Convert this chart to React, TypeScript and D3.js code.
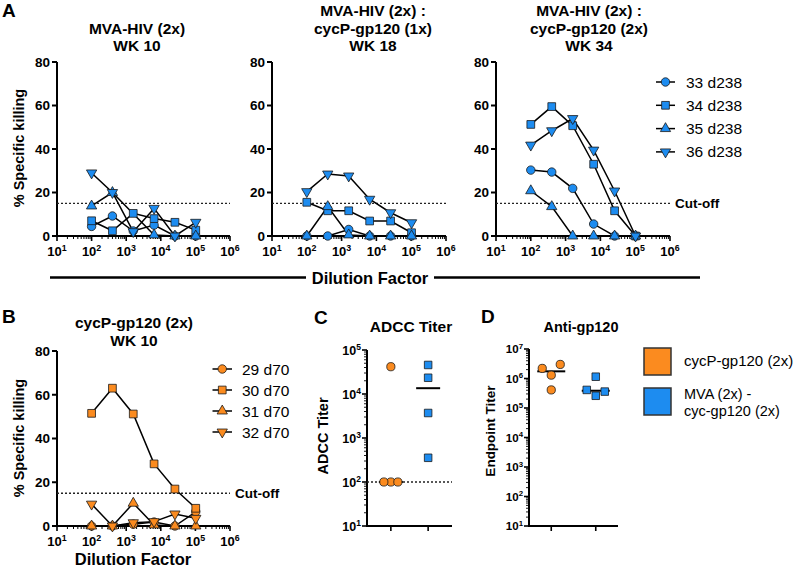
import React from "react";
import * as d3 from "d3";

// ---------------- DATA ----------------
const dilutions = [100, 400, 1600, 6400, 25600, 102400];
const killingTicks = [0, 20, 40, 60, 80];
const cutoff = 15;

const mvaAnimals = ["33 d238", "34 d238", "35 d238", "36 d238"];
const cycAnimals = ["29 d70", "30 d70", "31 d70", "32 d70"];

// Panel A – MVA-HIV (2x), WK 10
const wk10Animal33 = [4.4, 9.2, 2.3, 5.0, 0, 0];
const wk10Animal34 = [7.0, 2.4, 10.4, 8.0, 6.3, 2.7];
const wk10Animal35 = [13.8, 20.0, null, 0.5, 0, 0];
const wk10Animal36 = [29.0, 20.0, 2.0, 12.7, 0, 6.3];

// Panel A – MVA-HIV (2x) : cycP-gp120 (1x), WK 18
const wk18Animal33 = [0, 0, 3.0, 0, 0, 0];
const wk18Animal34 = [15.5, 11.6, 11.6, 6.9, 6.9, 1.5];
const wk18Animal35 = [0, 13.5, 0.5, 0, 0, 0];
const wk18Animal36 = [20.4, 28.5, 27.6, 16.9, 10.7, 6.1];

// Panel A – MVA-HIV (2x) : cycP-gp120 (2x), WK 34
const wk34Animal33 = [30.3, 29.4, 21.9, 5.5, 0, 0];
const wk34Animal34 = [51.3, 59.5, 50.7, 33.0, 11.6, 0];
const wk34Animal35 = [20.8, 13.5, 0, 0, 0, 0];
const wk34Animal36 = [41.8, 48.4, 54.0, 39.5, 20.7, 0];

// Panel B – cycP-gp120 (2x), WK 10
const cycAnimal29 = [0, 0, 0.8, 1.8, 0, 6.5];
const cycAnimal30 = [51.5, 63.0, 51.2, 28.4, 16.9, 8.1];
const cycAnimal31 = [0, 0, 10.4, 0.5, 0, 0];
const cycAnimal32 = [10.0, 0, 1.5, 2.0, 5.5, 3.5];

// Panels C & D
const groups = ["cycP-gp120 (2x)", "MVA (2x) - cyc-gp120 (2x)"];
const adccTiterCyc = [41700, 100, 100, 100];
const adccTiterMva = [45700, 23400, 3700, 355];
const adccCutoff = 100;
const gp120TiterCyc = [1.3e6, 2.2e6, 3.0e6, 4.1e5];
const gp120TiterMva = [1.15e6, 2.6e5, 4.1e5, 3.6e5];

// ---------------- STYLE ----------------
const FONT = "'Liberation Sans', Arial, Helvetica, sans-serif";
const BLUE = "#1d8cf0";
const ORANGE = "#fb8b1f";
const EDGE = "#1b1b1b";
const SHAPES = ["circle", "square", "triangle", "triangleDown"] as const;
type Shape = (typeof SHAPES)[number];

function Marker({ shape, x, y, fill, k = 1 }: { shape: Shape; x: number; y: number; fill: string; k?: number }) {
  const sizes: Record<Shape, number> = { circle: 56, square: 60, triangle: 46, triangleDown: 46 };
  const type = shape === "circle" ? d3.symbolCircle : shape === "square" ? d3.symbolSquare : d3.symbolTriangle;
  const d = d3.symbol(type, sizes[shape] * k)() as string;
  return (
    <path
      d={d}
      transform={`translate(${x},${y})${shape === "triangleDown" ? " rotate(180)" : ""}`}
      fill={fill}
      stroke={EDGE}
      strokeWidth={0.8}
    />
  );
}

function Pow10({ x, y, exp, size, anchor }: { x: number; y: number; exp: number; size: number; anchor: string }) {
  return (
    <text x={x} y={y} textAnchor={anchor} fontFamily={FONT} fontWeight="bold" fontSize={size}>
      10
      <tspan dy={-size * 0.42} fontSize={size * 0.68}>
        {exp}
      </tspan>
    </text>
  );
}

function YLabel({ x, y, text, size }: { x: number; y: number; text: string; size: number }) {
  return (
    <text
      transform={`translate(${x},${y}) rotate(-90)`}
      textAnchor="middle"
      dy="0.35em"
      fontFamily={FONT}
      fontWeight="bold"
      fontSize={size}
    >
      {text}
    </text>
  );
}

function Title({ x, lines, baseline, size }: { x: number; lines: string[]; baseline: number; size: number }) {
  return (
    <g>
      {lines.map((l, i) => (
        <text
          key={i}
          x={x}
          y={baseline + i * 17.5}
          textAnchor="middle"
          fontFamily={FONT}
          fontWeight="bold"
          fontSize={size}
        >
          {l}
        </text>
      ))}
    </g>
  );
}

type KillingProps = {
  x0: number;
  x1: number;
  yTop: number;
  yBottom: number;
  series: (number | null)[][];
  color: string;
  cutoffLabel?: boolean;
  legend?: { names: string[]; lineX0: number; lineX1: number; textX: number; y0: number; dy: number };
};

function KillingPanel({ x0, x1, yTop, yBottom, series, color, cutoffLabel, legend }: KillingProps) {
  const x = d3.scaleLog().domain([10, 1e6]).range([x0, x1]);
  const y = d3.scaleLinear().domain([0, 80]).range([yBottom, yTop]);
  const xt = x.ticks();
  const isMajor = (t: number) => Math.abs(Math.log10(t) - Math.round(Math.log10(t))) < 1e-9;
  const line = d3
    .line<[number, number]>()
    .x((d) => x(d[0]))
    .y((d) => y(d[1]));
  return (
    <g>
      <line x1={x0} x2={x0} y1={yTop} y2={yBottom + 1} stroke="#000" strokeWidth={2} />
      {killingTicks.map((t) => (
        <g key={t}>
          <line x1={x0 - 5} x2={x0} y1={y(t)} y2={y(t)} stroke="#000" strokeWidth={2} />
          <text
            x={x0 - 7}
            y={y(t)}
            dy="0.36em"
            textAnchor="end"
            fontFamily={FONT}
            fontWeight="bold"
            fontSize={13.5}
          >
            {t}
          </text>
        </g>
      ))}
      <line x1={x0 - 1} x2={x1} y1={yBottom} y2={yBottom} stroke="#000" strokeWidth={2} />
      {xt.map((t, i) => (
        <line
          key={i}
          x1={x(t)}
          x2={x(t)}
          y1={yBottom}
          y2={yBottom + (isMajor(t) ? 5 : 3)}
          stroke="#000"
          strokeWidth={isMajor(t) ? 1.6 : 1}
        />
      ))}
      {xt.filter(isMajor).map((t) => (
        <Pow10 key={t} x={x(t)} y={yBottom + 20} exp={Math.round(Math.log10(t))} size={13} anchor="middle" />
      ))}
      <line
        x1={x0}
        x2={x1}
        y1={y(cutoff)}
        y2={y(cutoff)}
        stroke="#222"
        strokeWidth={1.4}
        strokeDasharray="2 2"
      />
      {cutoffLabel && (
        <text x={x1 + 5} y={y(cutoff)} dy="0.36em" fontFamily={FONT} fontWeight="bold" fontSize={13.5}>
          Cut-off
        </text>
      )}
      {series.map((s, si) => {
        const pts = dilutions
          .map((dl, i) => [dl, s[i]] as [number, number | null])
          .filter((p) => p[1] !== null) as [number, number][];
        return <path key={si} d={line(pts) as string} fill="none" stroke="#000" strokeWidth={1.5} />;
      })}
      {series.map((s, si) =>
        dilutions.map((dl, i) =>
          s[i] === null ? null : (
            <Marker key={`${si}-${i}`} shape={SHAPES[si]} x={x(dl)} y={y(s[i] as number)} fill={color} />
          )
        )
      )}
      {legend &&
        legend.names.map((n, i) => {
          const ly = legend.y0 + i * legend.dy;
          return (
            <g key={n}>
              <line x1={legend.lineX0} x2={legend.lineX1} y1={ly} y2={ly} stroke="#000" strokeWidth={1.5} />
              <Marker shape={SHAPES[i]} x={(legend.lineX0 + legend.lineX1) / 2} y={ly} fill={color} />
              <text x={legend.textX} y={ly} dy="0.36em" fontFamily={FONT} fontSize={15.5}>
                {n}
              </text>
            </g>
          );
        })}
    </g>
  );
}

function swarm(ys: number[], step: number, h: number): number[] {
  const placed: { x: number; y: number }[] = [];
  return ys.map((yy) => {
    for (let k = 0; k < 20; k++) {
      const off = k === 0 ? 0 : (k % 2 === 1 ? -1 : 1) * Math.ceil(k / 2) * step;
      if (!placed.some((p) => Math.abs(p.x - off) < step * 0.99 && Math.abs(p.y - yy) < h)) {
        placed.push({ x: off, y: yy });
        return off;
      }
    }
    return 0;
  });
}

type TiterProps = {
  x0: number;
  x1: number;
  yTop: number;
  yBottom: number;
  maxExp: number;
  pad: number;
  values: number[][];
  step: number;
  medianHalf: number;
  labelX: number;
  labelSize: number;
  cutoffValue?: number;
  k: number;
};

function TiterPanel({ x0, x1, yTop, yBottom, maxExp, pad, values, step, medianHalf, labelX, labelSize, cutoffValue, k }: TiterProps) {
  const y = d3.scaleLog().domain([10, Math.pow(10, maxExp)]).range([yBottom, yTop]);
  const x = d3.scalePoint<string>().domain(groups).range([x0, x1]).padding(pad);
  const yt = y.ticks();
  const isMajor = (t: number) => Math.abs(Math.log10(t) - Math.round(Math.log10(t))) < 1e-9;
  const colors = [ORANGE, BLUE];
  const shapes: Shape[] = ["circle", "square"];
  return (
    <g>
      <line x1={x0} x2={x0} y1={yTop} y2={yBottom + 1} stroke="#000" strokeWidth={2} />
      {yt.map((t, i) => (
        <line
          key={i}
          x1={x0 - (isMajor(t) ? 5 : 3)}
          x2={x0}
          y1={y(t)}
          y2={y(t)}
          stroke="#000"
          strokeWidth={isMajor(t) ? 1.6 : 0.9}
        />
      ))}
      {yt.filter(isMajor).map((t) => (
        <Pow10 key={t} x={labelX} y={y(t) + labelSize * 0.38} exp={Math.round(Math.log10(t))} size={labelSize} anchor="end" />
      ))}
      <line x1={x0 - 1} x2={x1} y1={yBottom} y2={yBottom} stroke="#000" strokeWidth={2} />
      {groups.map((g) => (
        <line key={g} x1={x(g)!} x2={x(g)!} y1={yBottom} y2={yBottom + 5} stroke="#000" strokeWidth={1.6} />
      ))}
      {cutoffValue !== undefined && (
        <line
          x1={x0}
          x2={x1}
          y1={y(cutoffValue)}
          y2={y(cutoffValue)}
          stroke="#222"
          strokeWidth={1.4}
          strokeDasharray="2 2"
        />
      )}
      {values.map((vals, gi) => {
        const med = d3.median(vals) as number;
        const cx = x(groups[gi])!;
        return (
          <line key={gi} x1={cx - medianHalf} x2={cx + medianHalf} y1={y(med)} y2={y(med)} stroke="#000" strokeWidth={2} />
        );
      })}
      {values.map((vals, gi) => {
        const cx = x(groups[gi])!;
        const offs = swarm(vals.map((v) => y(v)), step, 12);
        return vals.map((v, i) => (
          <Marker key={`${gi}-${i}`} shape={shapes[gi]} x={cx + offs[i]} y={y(v)} fill={colors[gi]} k={k} />
        ));
      })}
    </g>
  );
}

function PanelLetter({ x, y, t }: { x: number; y: number; t: string }) {
  return (
    <text x={x} y={y} fontFamily={FONT} fontWeight="bold" fontSize={19}>
      {t}
    </text>
  );
}

export default function App() {
  return (
    <svg
      width={800}
      height={569}
      viewBox="0 0 800 569"
      style={{ position: "absolute", left: 0, top: 0, background: "#fff" }}
    >
      <rect x={0} y={0} width={800} height={569} fill="#fff" />
      {/* Panel A */}
      <PanelLetter x={2} y={17} t="A" />
      <Title x={137} lines={["MVA-HIV (2x)", "WK 10"]} baseline={33.5} size={15.5} />
      <Title x={373} lines={["MVA-HIV (2x) :", "cycP-gp120 (1x)", "WK 18"]} baseline={16} size={15.5} />
      <Title x={589} lines={["MVA-HIV (2x) :", "cycP-gp120 (2x)", "WK 34"]} baseline={16} size={15.5} />
      <YLabel x={19} y={148} text="% Specific killing" size={14.5} />
      <KillingPanel
        x0={57}
        x1={230}
        yTop={62}
        yBottom={236}
        series={[wk10Animal33, wk10Animal34, wk10Animal35, wk10Animal36]}
        color={BLUE}
      />
      <KillingPanel
        x0={272}
        x1={446}
        yTop={62}
        yBottom={236}
        series={[wk18Animal33, wk18Animal34, wk18Animal35, wk18Animal36]}
        color={BLUE}
      />
      <KillingPanel
        x0={496}
        x1={670}
        yTop={62}
        yBottom={236}
        series={[wk34Animal33, wk34Animal34, wk34Animal35, wk34Animal36]}
        color={BLUE}
        cutoffLabel
        legend={{ names: mvaAnimals, lineX0: 656, lineX1: 675, textX: 686, y0: 82, dy: 23.3 }}
      />
      <line x1={50} x2={306} y1={277.5} y2={277.5} stroke="#000" strokeWidth={2.5} />
      <line x1={434} x2={700} y1={277.5} y2={277.5} stroke="#000" strokeWidth={2.5} />
      <text x={370} y={283.5} textAnchor="middle" fontFamily={FONT} fontWeight="bold" fontSize={16.5}>
        Dilution Factor
      </text>

      {/* Panel B */}
      <PanelLetter x={2} y={323} t="B" />
      <Title x={134} lines={["cycP-gp120 (2x)", "WK 10"]} baseline={328} size={15.5} />
      <YLabel x={19} y={438} text="% Specific killing" size={14.5} />
      <KillingPanel
        x0={57}
        x1={230}
        yTop={351}
        yBottom={526}
        series={[cycAnimal29, cycAnimal30, cycAnimal31, cycAnimal32]}
        color={ORANGE}
        cutoffLabel
        legend={{ names: cycAnimals, lineX0: 212.5, lineX1: 232, textX: 242, y0: 369, dy: 21 }}
      />
      <text x={133} y={564.5} textAnchor="middle" fontFamily={FONT} fontWeight="bold" fontSize={16.5}>
        Dilution Factor
      </text>

      {/* Panel C */}
      <PanelLetter x={314} y={324} t="C" />
      <Title x={411} lines={["ADCC Titer"]} baseline={332} size={15.5} />
      <YLabel x={323} y={436} text="ADCC Titer" size={14.5} />
      <TiterPanel
        x0={367}
        x1={452}
        yTop={350}
        yBottom={526}
        maxExp={5}
        pad={0.64}
        values={[adccTiterCyc, adccTiterMva]}
        step={7}
        medianHalf={12}
        labelX={361}
        labelSize={12.5}
        cutoffValue={adccCutoff}
        k={0.95}
      />

      {/* Panel D */}
      <PanelLetter x={481} y={323} t="D" />
      <Title x={581} lines={["Anti-gp120"]} baseline={332} size={14.5} />
      <YLabel x={490} y={431} text="Endpoint Titer" size={13.5} />
      <TiterPanel
        x0={529}
        x1={618}
        yTop={349}
        yBottom={526}
        maxExp={7}
        pad={0.5}
        values={[gp120TiterCyc, gp120TiterMva]}
        step={9}
        medianHalf={14}
        labelX={523}
        labelSize={11.5}
        k={0.95}
      />

      {/* Legend for C & D */}
      <rect x={644} y={348} width={27} height={27} fill={ORANGE} stroke="#333" strokeWidth={1.5} />
      <rect x={644} y={388} width={27} height={27} fill={BLUE} stroke="#333" strokeWidth={1.5} />
      <text x={684} y={361} dy="0.36em" fontFamily={FONT} fontSize={15}>
        {groups[0]}
      </text>
      <text x={684} y={394} dy="0.36em" fontFamily={FONT} fontSize={14.5}>
        MVA (2x) -
      </text>
      <text x={684} y={411} dy="0.36em" fontFamily={FONT} fontSize={14.5}>
        cyc-gp120 (2x)
      </text>
    </svg>
  );
}
